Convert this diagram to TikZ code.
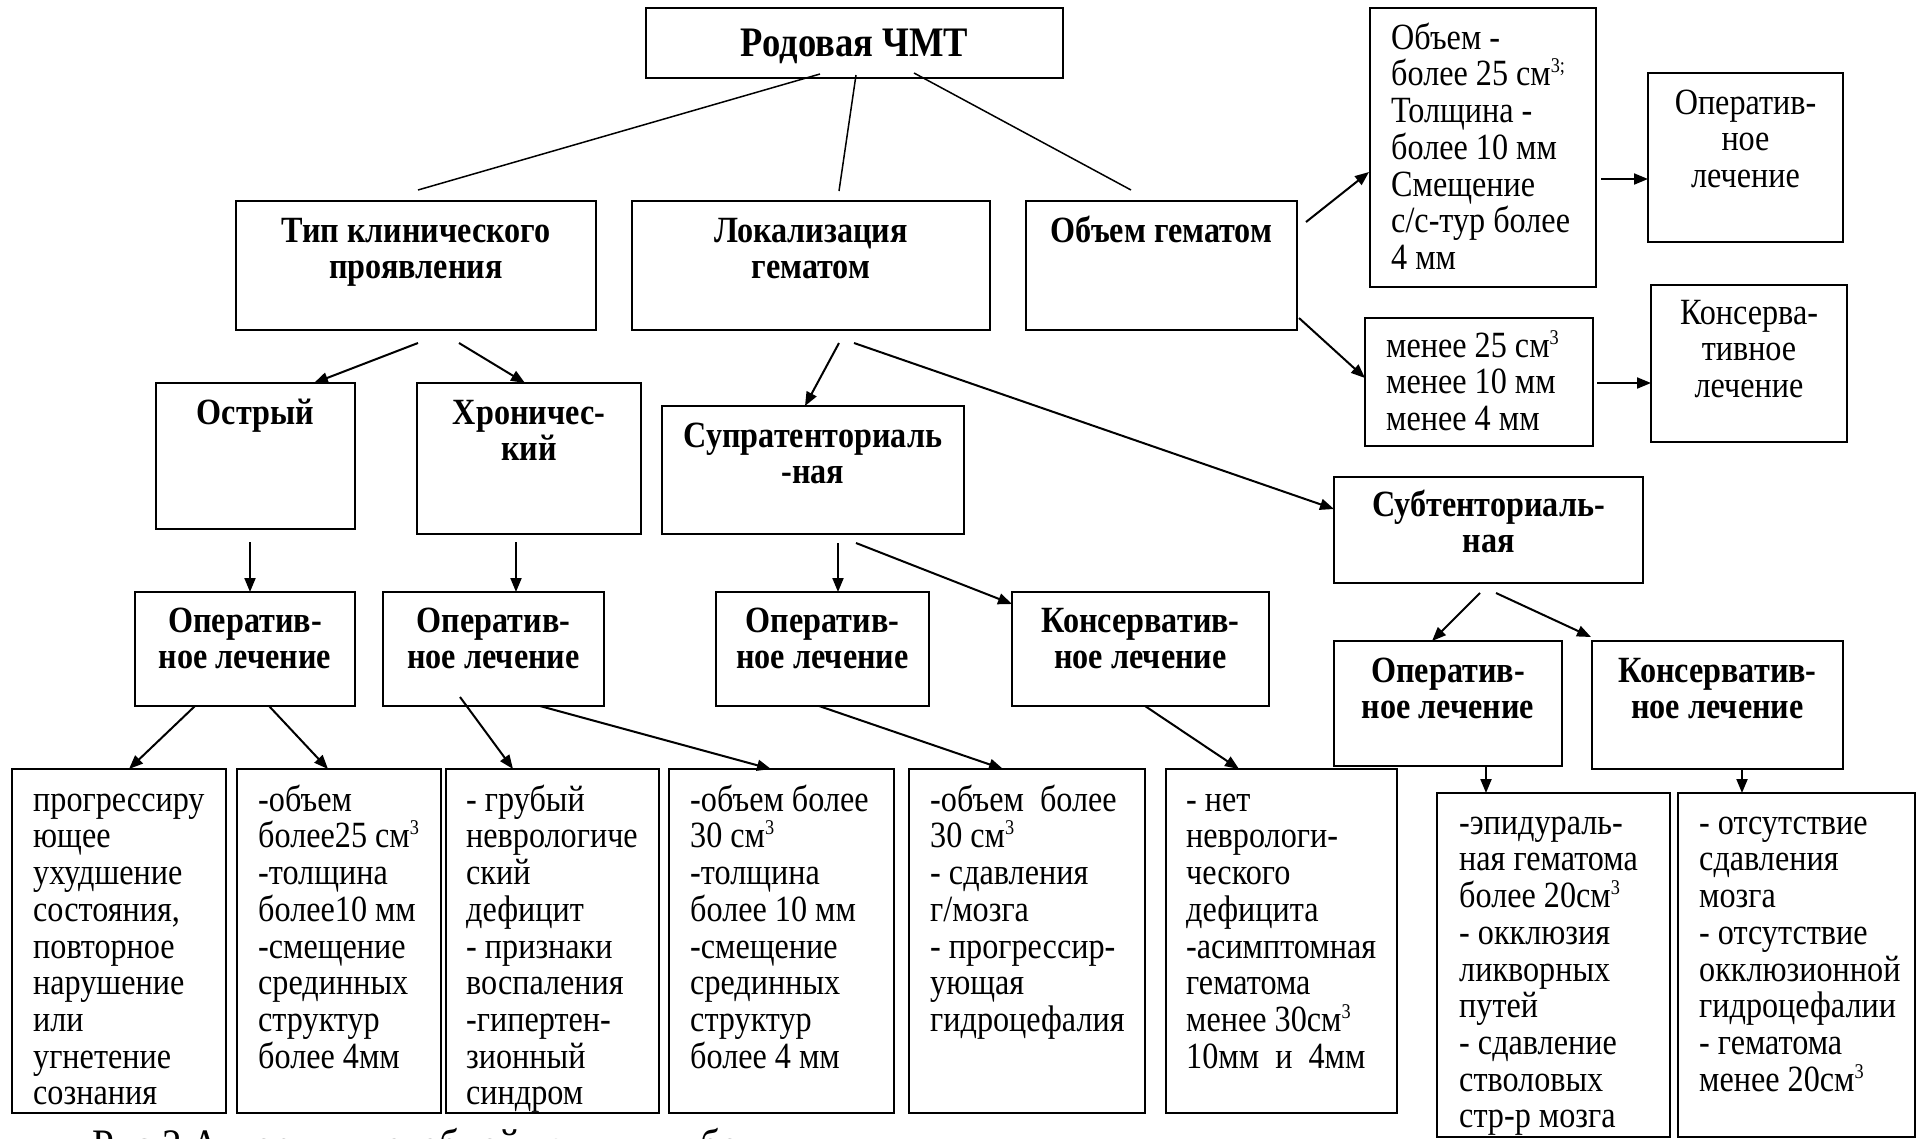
\documentclass[tikz,border=0pt]{standalone}
\usepackage{fontspec}
\setmainfont[FakeStretch=0.87]{Liberation Serif}
\usetikzlibrary{arrows.meta}
\newcommand\bodyfont{\fontsize{37pt}{36.7pt}\selectfont\lineskiplimit=-100pt\lineskip=0pt\relax}
\newcommand\rootfont{\fontsize{42pt}{42pt}\selectfont\bfseries}
\newcommand\capfont{\fontsize{45pt}{45pt}\selectfont}
\newcommand\fl{\rule{0pt}{28pt}}
\newcommand\supx[1]{\raisebox{13pt}{\fontsize{21pt}{21pt}\selectfont #1}}
\newcommand\cmc{см\supx{3}}
\begin{document}
\begin{tikzpicture}[x=1pt,y=-1pt,
  box/.style={draw, line width=2.2pt, fill=white, inner sep=0pt, outer sep=0pt},
  hd/.style={font=\bodyfont\bfseries, align=center, anchor=north, inner sep=0pt},
  ct/.style={font=\bodyfont, align=center, anchor=north, inner sep=0pt},
  lt/.style={font=\bodyfont, align=left, anchor=north west, inner sep=0pt},
  arr/.style={line width=2pt, -{Triangle[length=14pt,width=11pt]}},
  ln/.style={line width=1.5pt}]
\clip (0,0) rectangle (1919,1138);
\fill[white] (0,0) rectangle (1919,1138);

% boxes
\node[box, minimum width=417pt, minimum height=70pt] (root) at (854.5,43) {};
\node[box, minimum width=360pt, minimum height=129pt] (tip) at (416,265.5) {};
\node[box, minimum width=358pt, minimum height=129pt] (lok) at (811,265.5) {};
\node[box, minimum width=271pt, minimum height=129pt] (obem) at (1161.5,265.5) {};
\node[box, minimum width=226pt, minimum height=279pt] (bA) at (1483,147.5) {};
\node[box, minimum width=195pt, minimum height=169pt] (bB) at (1745.5,157.5) {};
\node[box, minimum width=228pt, minimum height=128pt] (bC) at (1479,382) {};
\node[box, minimum width=196pt, minimum height=157pt] (bD) at (1749,363.5) {};
\node[box, minimum width=199pt, minimum height=146pt] (ostr) at (255.5,456) {};
\node[box, minimum width=224pt, minimum height=151pt] (hron) at (529,458.5) {};
\node[box, minimum width=302pt, minimum height=128pt] (supra) at (813,470) {};
\node[box, minimum width=309pt, minimum height=106pt] (sub) at (1488.5,530) {};
\node[box, minimum width=220pt, minimum height=114pt] (op1) at (245,649) {};
\node[box, minimum width=221pt, minimum height=114pt] (op2) at (493.5,649) {};
\node[box, minimum width=213pt, minimum height=114pt] (op3) at (822.5,649) {};
\node[box, minimum width=257pt, minimum height=114pt] (kons1) at (1140.5,649) {};
\node[box, minimum width=228pt, minimum height=125pt] (op4) at (1448,703.5) {};
\node[box, minimum width=251pt, minimum height=128pt] (kons2) at (1717.5,705) {};
\node[box, minimum width=214pt, minimum height=344pt] (t1) at (119,941) {};
\node[box, minimum width=204pt, minimum height=344pt] (t2) at (339,941) {};
\node[box, minimum width=213pt, minimum height=344pt] (t3) at (552.5,941) {};
\node[box, minimum width=225pt, minimum height=344pt] (t4) at (781.5,941) {};
\node[box, minimum width=236pt, minimum height=344pt] (t5) at (1027,941) {};
\node[box, minimum width=231pt, minimum height=344pt] (t6) at (1281.5,941) {};
\node[box, minimum width=233pt, minimum height=344pt] (tE) at (1553.5,965) {};
\node[box, minimum width=237pt, minimum height=344pt] (tF) at (1796.5,965) {};

% plain lines from the root
\draw[ln] ([shift={(-34.5,-4)}]root.south) -- ([shift={(2,-11)}]tip.north);
\draw[ln] ([shift={(1.5,-3)}]root.south) -- ([shift={(28,-10)}]lok.north);
\draw[ln] ([shift={(59.5,-5)}]root.south) -- ([shift={(-30.5,-11)}]obem.north);

% arrows
\draw[arr] ([shift={(2,13)}]tip.south) -- ([shift={(58.5,0)}]ostr.north);
\draw[arr] ([shift={(43,13)}]tip.south) -- ([shift={(-4,0)}]hron.north);
\draw[arr] ([shift={(28,13)}]lok.south) -- ([shift={(-8,0)}]supra.north);
\draw[arr] ([shift={(43,13)}]lok.south) -- ([shift={(0,-21)}]sub.west);
\draw[arr] ([shift={(-5.5,13)}]ostr.south) -- ([shift={(-5.5,0)}]op1.north -| ostr.south);
\draw[arr] ([shift={(-13,8)}]hron.south) -- ([shift={(22.5,0)}]op2.north);
\draw[arr] ([shift={(25,9)}]supra.south) -- ([shift={(15.5,0)}]op3.north);
\draw[arr] ([shift={(43,9)}]supra.south) -- ([shift={(0,12)}]kons1.north west);
\draw[arr] ([shift={(-50,0)}]op1.south) -- ([shift={(10,0)}]t1.north);
\draw[arr] ([shift={(24,0)}]op1.south) -- ([shift={(-11,0)}]t2.north);
\draw[arr] ([shift={(-33.5,-9)}]op2.south) -- ([shift={(-39.5,0)}]t3.north);
\draw[arr] ([shift={(46.5,0)}]op2.south) -- ([shift={(-10.5,0)}]t4.north);
\draw[arr] ([shift={(-3.5,0)}]op3.south) -- ([shift={(-24,0)}]t5.north);
\draw[arr] ([shift={(4.5,0)}]kons1.south) -- ([shift={(-42.5,0)}]t6.north);
\draw[arr] ([shift={(-8.5,10)}]sub.south) -- ([shift={(-16,0)}]op4.north);
\draw[arr] ([shift={(7.5,10)}]sub.south) -- ([shift={(-1,-4)}]kons2.north west);
\draw[arr] ([shift={(38,0)}]op4.south) -- ([shift={(-67.5,0)}]tE.north);
\draw[arr] ([shift={(24.5,0)}]kons2.south) -- ([shift={(-54.5,0)}]tF.north);
\draw[arr] ([shift={(9,21)}]obem.north east) -- ([shift={(-1,24.5)}]bA.west);
\draw[arr] ([shift={(2,-12)}]obem.south east) -- ([shift={(0,-4)}]bC.west);
\draw[arr] ([shift={(5,31.5)}]bA.east) -- ([shift={(0,21.5)}]bB.west);
\draw[arr] ([shift={(4,1)}]bC.east) -- ([shift={(0,19.5)}]bD.west);

% texts
\node[font=\rootfont, anchor=base, inner sep=0pt] (rootT) at ([yshift=-48pt]root.north) {Родовая ЧМТ};
\node[hd] (tipT) at ([yshift=-13pt]tip.north) {\fl Тип клинического\\проявления};
\node[hd] (lokT) at ([yshift=-13pt]lok.north) {\fl Локализация\\гематом};
\node[hd] (obemT) at ([yshift=-13pt]obem.north) {\fl Объем гематом};
\node[lt] (bAT) at ([shift={(21,13)}]bA.north west) {\fl Объем -\\более 25 см\supx{3;}\\Толщина -\\более 10 мм\\Смещение\\с/с-тур более\\4 мм};
\node[ct] (bBT) at ([yshift=-13pt]bB.north) {\fl Оператив-\\ное\\лечение};
\node[lt] (bCT) at ([shift={(21,11)}]bC.north west) {\fl менее 25 \cmc\\менее 10 мм\\менее 4 мм};
\node[ct] (bDT) at ([yshift=-11pt]bD.north) {\fl Консерва-\\тивное\\лечение};
\node[hd] (ostrT) at ([yshift=-13pt]ostr.north) {\fl Острый};
\node[hd] (hronT) at ([yshift=-13pt]hron.north) {\fl Хроничес-\\кий};
\node[hd] (supraT) at ([yshift=-13pt]supra.north) {\fl Супратенториаль\\-ная};
\node[hd] (subT) at ([yshift=-11pt]sub.north) {\fl Субтенториаль-\\ная};
\node[hd] (op1T) at ([yshift=-12pt]op1.north) {\fl Оператив-\\ное лечение};
\node[hd] (op2T) at ([yshift=-12pt]op2.north) {\fl Оператив-\\ное лечение};
\node[hd] (op3T) at ([yshift=-12pt]op3.north) {\fl Оператив-\\ное лечение};
\node[hd] (kons1T) at ([yshift=-12pt]kons1.north) {\fl Консерватив-\\ное лечение};
\node[hd] (op4T) at ([yshift=-13pt]op4.north) {\fl Оператив-\\ное лечение};
\node[hd] (kons2T) at ([yshift=-13pt]kons2.north) {\fl Консерватив-\\ное лечение};
\node[lt] (t1T) at ([shift={(21,14)}]t1.north west) {\fl прогрессиру\\ющее\\ухудшение\\состояния,\\повторное\\нарушение\\или\\угнетение\\сознания};
\node[lt] (t2T) at ([shift={(21,14)}]t2.north west) {\fl -объем\\более25 \cmc\\-толщина\\более10 мм\\-смещение\\срединных\\структур\\более 4мм};
\node[lt] (t3T) at ([shift={(20,14)}]t3.north west) {\fl - грубый\\неврологиче\\ский\\дефицит\\- признаки\\воспаления\\-гипертен-\\зионный\\синдром};
\node[lt] (t4T) at ([shift={(21,14)}]t4.north west) {\fl -объем более\\30 \cmc\\-толщина\\более 10 мм\\-смещение\\срединных\\структур\\более 4 мм};
\node[lt] (t5T) at ([shift={(21,14)}]t5.north west) {\fl -объем~~более\\30 \cmc\\- сдавления\\г/мозга\\- прогрессир-\\ующая\\гидроцефалия};
\node[lt] (t6T) at ([shift={(20,14)}]t6.north west) {\fl - нет\\неврологи-\\ческого\\дефицита\\-асимптомная\\гематома\\менее 30\cmc\\10мм~~и~~4мм};
\node[lt] (tET) at ([shift={(22,13)}]tE.north west) {\fl -эпидураль-\\ная гематома\\более 20\cmc\\- окклюзия\\ликворных\\путей\\- сдавление\\стволовых\\стр-р мозга};
\node[lt] (tFT) at ([shift={(21,13)}]tF.north west) {\fl - отсутствие\\сдавления\\мозга\\- отсутствие\\окклюзионной\\гидроцефалии\\- гематома\\менее 20\cmc};

% caption, cut by the lower edge
\node[font=\capfont, anchor=base west, inner sep=0pt] (cap) at (92,1160) {Рис.2 Алгоритм лечебной тактики у больных};
\end{tikzpicture}
\end{document}
